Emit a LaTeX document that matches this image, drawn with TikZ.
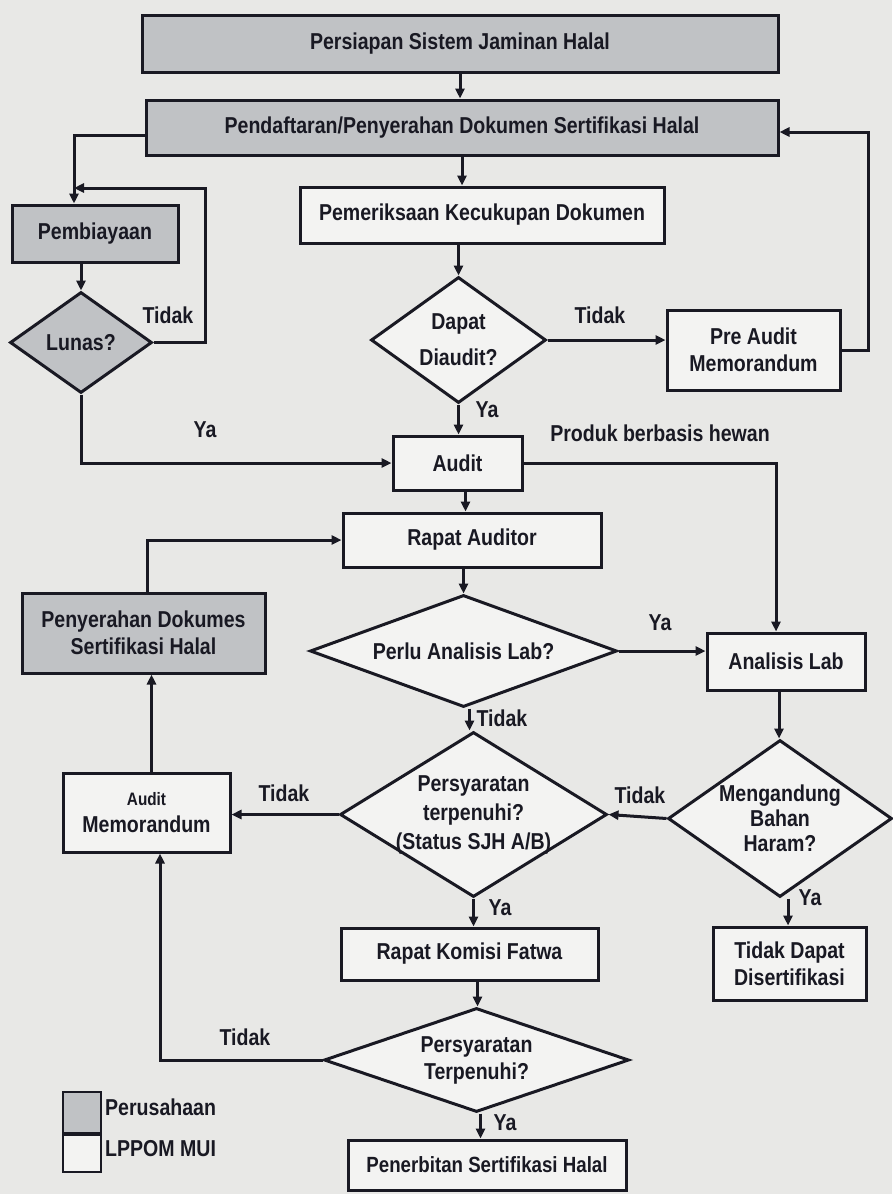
\documentclass[tikz,border=0pt]{standalone}
\usepackage{fontspec}
\setmainfont[FakeStretch=0.85]{Liberation Sans}
\usetikzlibrary{shapes.geometric,arrows.meta}
\definecolor{bgcol}{RGB}{232,232,230}
\definecolor{boxgray}{RGB}{192,194,197}
\definecolor{boxwhite}{RGB}{243,243,242}
\definecolor{ink}{RGB}{25,25,35}
\begin{document}
\begin{tikzpicture}[x=1pt,y=-1pt,
  every node/.style={font=\bfseries\fontsize{23}{27}\selectfont, text=ink},
  box/.style={draw=ink, line width=3pt, rectangle, inner sep=2pt, align=center, fill=boxwhite},
  gbox/.style={box, fill=boxgray},
  dia/.style={draw=ink, line width=3pt, diamond, inner sep=-10pt, align=center, fill=boxwhite},
  gdia/.style={dia, fill=boxgray},
  lbl/.style={inner sep=1pt},
  conn/.style={draw=ink, line width=3pt},
  arr/.style={conn, -{Triangle[length=10pt,width=9pt]}}]
\fill[bgcol] (0,0) rectangle (892,1194);
\useasboundingbox (0,0) rectangle (892,1194);

% nodes
\node[gbox, minimum width=636, minimum height=57] (b1) at (460,43.5) {Persiapan Sistem Jaminan Halal};
\node[gbox, minimum width=632, minimum height=55] (b2) at (462,127.5) {Pendaftaran/Penyerahan Dokumen Sertifikasi Halal};
\node[gbox, minimum width=166, minimum height=57] (pemb) at (95,233.5) {Pembiayaan};
\node[box, minimum width=364, minimum height=56] (pem) at (482,215) {Pemeriksaan Kecukupan Dokumen};
\node[dia, shape aspect=1.39, minimum width=175, minimum height=126, font=\bfseries\fontsize{23}{36}\selectfont] (dapat) at (458.5,340) {Dapat\\Diaudit?};
\node[box, minimum width=173, minimum height=80] (pre) at (753.5,350) {Pre Audit\\Memorandum};
\node[gdia, shape aspect=1.41, minimum width=142, minimum height=101] (lunas) at (81,342.5) {Lunas?};
\node[box, minimum width=129, minimum height=54] (audit) at (457.5,463) {Audit};
\node[box, minimum width=258, minimum height=54] (rapat) at (472,540) {Rapat Auditor};
\node[dia, shape aspect=2.74, minimum width=307, minimum height=112] (perlu) at (463.5,651) {Perlu Analisis Lab?};
\node[box, minimum width=158, minimum height=57] (lab) at (786,661.5) {Analisis Lab};
\node[gbox, minimum width=243, minimum height=80] (serah) at (143.5,633) {Penyerahan Dokumes\\Sertifikasi Halal};
\node[dia, shape aspect=1.62, minimum width=267, minimum height=165, font=\bfseries\fontsize{23}{29}\selectfont] (pers1) at (473.5,814.5) {Persyaratan\\terpenuhi?\\(Status SJH A/B)};
\node[box, minimum width=167, minimum height=79] (amemo) at (146.5,812.5) {{\fontsize{18}{20}\selectfont Audit}\\Memorandum};
\node[dia, shape aspect=1.43, minimum width=224, minimum height=157, font=\bfseries\fontsize{23}{25}\selectfont] (meng) at (780,818.5) {Mengandung\\Bahan\\Haram?};
\node[box, minimum width=153, minimum height=73] (tdk) at (789.5,963.5) {Tidak Dapat\\Disertifikasi};
\node[box, minimum width=257, minimum height=52] (komisi) at (469.5,954) {Rapat Komisi Fatwa};
\node[dia, shape aspect=2.93, minimum width=305, minimum height=104] (pers2) at (476.5,1060) {Persyaratan\\Terpenuhi?};
\node[box, minimum width=278, minimum height=50, font=\bfseries\fontsize{22}{26}\selectfont] (terbit) at (487,1165) {Penerbitan Sertifikasi Halal};

% legend
\node[draw=ink, line width=2pt, fill=boxgray, minimum width=38, minimum height=41, inner sep=0pt] (lg1) at (82,1112.5) {};
\node[draw=ink, line width=2pt, fill=boxwhite, minimum width=38, minimum height=37, inner sep=0pt] (lg2) at (82,1153.5) {};
\node[lbl, anchor=west] (lt1) at (104,1107) {Perusahaan};
\node[lbl, anchor=west] (lt2) at (104,1149) {LPPOM MUI};

% coordinates
\coordinate (loopc) at (74,188);
\coordinate (loopr) at (205,188);
\coordinate (rr) at (868,132);
\coordinate (ll) at (160,1060);

% connectors
\draw[arr] (b1.south) -- (b1.south |- b2.north);
\draw[arr] ([yshift=-8pt]b2.west) -| ([xshift=-21pt]pemb.north);
\draw[arr] (lunas.east) -| (loopr) -- (loopc);
\draw[arr] (lunas.north |- pemb.south) -- (lunas.north);
\draw[arr] (b2.south) -- (b2.south |- pem.north);
\draw[arr] (dapat.north |- pem.south) -- (dapat.north);
\draw[arr] (dapat.east) -- (dapat.east -| pre.west);
\draw[arr] (pre.east) -| (rr) -- (rr -| b2.east);
\draw[arr] (lunas.south) |- (audit.west);
\draw[arr] (dapat.south) -- (dapat.south |- audit.north);
\draw[arr] (audit.east) -| ([xshift=-10pt]lab.north);
\draw[arr] ([xshift=8pt]audit.south) -- ([xshift=8pt]audit.south |- rapat.north);
\draw[arr] (perlu.north |- rapat.south) -- (perlu.north);
\draw[arr] (perlu.east) -- (perlu.east -| lab.west);
\draw[arr] ([xshift=6pt]perlu.south) -- ([xshift=6pt]perlu.south |- pers1.north);
\draw[arr] ([xshift=-7pt]lab.south) -- ([xshift=-7pt]lab.south |- meng.north);
\draw[arr] (meng.west) -- (pers1.east);
\draw[arr] (pers1.west) -- (pers1.west -| amemo.east);
\draw[arr] ([xshift=8pt]meng.south) -- ([xshift=8pt]meng.south |- tdk.north);
\draw[arr] (pers1.south) -- (pers1.south |- komisi.north);
\draw[arr] ([xshift=5pt]amemo.north) -- ([xshift=5pt]amemo.north |- serah.south);
\draw[arr] ([xshift=4pt]serah.north) |- (rapat.west);
\draw[arr] ([xshift=8pt]komisi.south) -- ([xshift=8pt]komisi.south |- pers2.north);
\draw[arr] (pers2.west) -- (ll) -- (ll |- amemo.south);
\draw[arr] ([xshift=4pt]pers2.south) -- ([xshift=4pt]pers2.south |- terbit.north);

% labels
\node[lbl] (t1) at (168,315) {Tidak};
\node[lbl] (t2) at (600,315) {Tidak};
\node[lbl] (y1) at (205,430) {Ya};
\node[lbl] (y2) at (487,410) {Ya};
\node[lbl] (pbh) at (660,433) {Produk berbasis hewan};
\node[lbl] (y3) at (660,623) {Ya};
\node[lbl] (t3) at (502,718) {Tidak};
\node[lbl] (t4) at (284,793) {Tidak};
\node[lbl] (t5) at (640,795) {Tidak};
\node[lbl] (y4) at (810,898) {Ya};
\node[lbl] (y5) at (500,908) {Ya};
\node[lbl] (t6) at (245,1037) {Tidak};
\node[lbl] (y6) at (505,1123) {Ya};
\end{tikzpicture}
\end{document}
